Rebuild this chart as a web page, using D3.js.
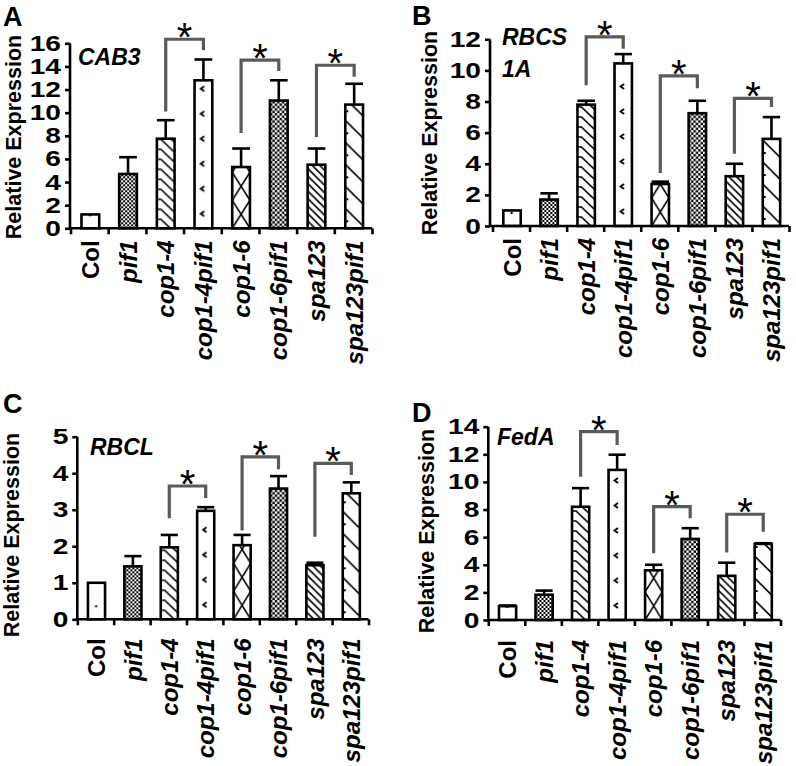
<!DOCTYPE html>
<html>
<head>
<meta charset="utf-8">
<script src="https://cdn.jsdelivr.net/npm/d3@7"></script>
<style>
  html, body { margin: 0; padding: 0; background: #fff; }
  svg { display: block; }
  text { font-family: "Liberation Sans", Arial, Helvetica, sans-serif; }
</style>
</head>
<body>
<svg id="chart" width="796" height="766"></svg>
<script>
// ---------------- DATA ----------------
const categories = ["Col", "pif1", "cop1-4", "cop1-4pif1", "cop1-6", "cop1-6pif1", "spa123", "spa123pif1"];
const italicLabels = [false, true, true, true, true, true, true, true];

// Panel A : CAB3
const meanA = [1.2, 4.7, 7.75, 12.8, 5.3, 11.05, 5.5, 10.7];
const errA  = [0.0, 1.45, 1.6, 1.8, 1.6, 1.75, 1.4, 1.8];
const ticksA = [0, 2, 4, 6, 8, 10, 12, 14, 16];
const bracketsA = [
  ["cop1-4", "cop1-4pif1", 16.35, 10.1, 15.4],
  ["cop1-6", "cop1-6pif1", 14.55, 8.25, 13.6],
  ["spa123", "spa123pif1", 14.1, 7.9, 13.1]
];

// Panel B : RBCS 1A
const meanB = [1.0, 1.7, 7.8, 10.45, 2.7, 7.25, 3.2, 5.6];
const errB  = [0.0, 0.4, 0.25, 0.6, 0.15, 0.8, 0.8, 1.4];
const ticksB = [0, 2, 4, 6, 8, 10, 12];
const bracketsB = [
  ["cop1-4", "cop1-4pif1", 12.15, 9.05, 11.4],
  ["cop1-6", "cop1-6pif1", 9.65, 3.4, 8.85],
  ["spa123", "spa123pif1", 8.2, 4.65, 7.65]
];

// Panel C : RBCL
const meanC = [1.0, 1.45, 1.97, 2.97, 2.03, 3.58, 1.48, 3.45];
const errC  = [0.0, 0.28, 0.34, 0.1, 0.28, 0.34, 0.07, 0.3];
const ticksC = [0, 1, 2, 3, 4, 5];
const bracketsC = [
  ["cop1-4", "cop1-4pif1", 3.65, 2.77, 3.32],
  ["cop1-6", "cop1-6pif1", 4.45, 2.43, 4.11],
  ["spa123", "spa123pif1", 4.27, 2.26, 3.95]
];

// Panel D : FedA
const meanD = [1.0, 1.83, 8.2, 10.87, 3.6, 5.87, 3.2, 5.51];
const errD  = [0.05, 0.3, 1.35, 1.1, 0.4, 0.78, 0.95, 0.05];
const ticksD = [0, 2, 4, 6, 8, 10, 12, 14];
const bracketsD = [
  ["cop1-4", "cop1-4pif1", 13.64, 10.38, 12.68],
  ["cop1-6", "cop1-6pif1", 8.21, 4.83, 7.37],
  ["spa123", "spa123pif1", 7.66, 4.88, 6.4]
];

const panelLetters = ["A", "B", "C", "D"];
const geneLabels = [["CAB3"], ["RBCS", "1A"], ["RBCL"], ["FedA"]];
const yTitle = "Relative Expression";

// ---------------- LAYOUT ----------------
const panels = [
  { id: "A", mean: meanA, err: errA, ticks: ticksA, brackets: bracketsA, gene: geneLabels[0],
    axisX: 70, x0: 70.5, x1: 372, y0: 228.3, yTop: 43.3, letter: [3, 26], geneXY: [78, 65], geneDy: 0,
    yTitleX: 13, yTitleY: 137, labelOff: 12 },
  { id: "B", mean: meanB, err: errB, ticks: ticksB, brackets: bracketsB, gene: geneLabels[1],
    axisX: 490, x0: 492.5, x1: 789, y0: 226, yTop: 39.3, letter: [412, 25], geneXY: [502, 45], geneDy: 32,
    yTitleX: 429, yTitleY: 133, labelOff: 12 },
  { id: "C", mean: meanC, err: errC, ticks: ticksC, brackets: bracketsC, gene: geneLabels[2],
    axisX: 77.3, x0: 77.3, x1: 368.5, y0: 619.3, yTop: 436.7, letter: [3, 413], geneXY: [90, 455], geneDy: 0,
    yTitleX: 11, yTitleY: 535, labelOff: 19 },
  { id: "D", mean: meanD, err: errD, ticks: ticksD, brackets: bracketsD, gene: geneLabels[3],
    axisX: 488.3, x0: 488.3, x1: 780.5, y0: 620, yTop: 426.7, letter: [412, 422], geneXY: [497, 445], geneDy: 0,
    yTitleX: 426, yTitleY: 531, labelOff: 20 }
];

const svg = d3.select("#chart");
const defs = svg.append("defs");
const FONT = '"Liberation Sans", Arial, Helvetica, sans-serif';

function newPattern(id, x, y, w, h) {
  const p = defs.append("pattern").attr("id", id).attr("patternUnits", "userSpaceOnUse")
    .attr("x", x).attr("y", y).attr("width", w).attr("height", h);
  p.append("rect").attr("width", w).attr("height", h).attr("fill", "#fff");
  return p;
}

function makePattern(id, kind, x, y, bw) {
  const sw = 1.6;
  if (kind === 0) { // Col: sparse dots
    const p = newPattern(id, x, y, bw, 26);
    p.append("rect").attr("x", bw * 0.42).attr("y", 12).attr("width", 2).attr("height", 2).attr("fill", "#000");
  } else if (kind === 1 || kind === 5) { // checkerboard
    const c = kind === 1 ? 2 : 2.4;
    const p = newPattern(id, x, y, 2 * c, 2 * c);
    p.append("rect").attr("width", c).attr("height", c).attr("fill", "#000");
    p.append("rect").attr("x", c).attr("y", c).attr("width", c).attr("height", c).attr("fill", "#000");
  } else if (kind === 2) { // stepped diagonal "\" with horizontal foot
    const h = 10;
    const p = newPattern(id, x, y, bw, h);
    let d = "";
    for (let k = -2; k <= 0; k++) {
      const y0 = 1 + k * h;
      d += `M0,${y0} H4 L${bw},${y0 + (bw - 4) * 0.95} `;
    }
    p.append("path").attr("d", d).attr("stroke", "#000").attr("stroke-width", sw).attr("fill", "none");
  } else if (kind === 3) { // sparse "<" marks
    const p = newPattern(id, x, y, bw, 25);
    p.append("path").attr("d", `M${bw * 0.55},8 L${bw * 0.35},10.5 L${bw * 0.55},13`).attr("stroke", "#000").attr("stroke-width", 1.8).attr("fill", "none");
  } else if (kind === 4) { // big X
    const h = 28;
    const p = newPattern(id, x, y, bw, h);
    p.append("path").attr("d", `M0,0 L${bw},${h} M${bw},0 L0,${h}`).attr("stroke", "#000").attr("stroke-width", sw).attr("fill", "none");
  } else if (kind === 6) { // dense diagonal
    const s = 7.5;
    const p = newPattern(id, x, y, s, s);
    p.append("path").attr("d", `M-1,-1 L${s + 1},${s + 1} M${s - 1},-1 L${s + 1},1 M-1,${s - 1} L1,${s + 1}`).attr("stroke", "#000").attr("stroke-width", sw);
  } else { // sparse diagonal "\"
    const h = 22;
    const p = newPattern(id, x, y, bw, h);
    let d = "";
    for (let k = -1; k <= 0; k++) {
      const y0 = 2 + k * h;
      d += `M0,${y0} L${bw},${y0 + bw} `;
    }
    p.append("path").attr("d", d).attr("stroke", "#000").attr("stroke-width", sw).attr("fill", "none");
    p.append("rect").attr("x", 1).attr("y", 14).attr("width", 2).attr("height", 2).attr("fill", "#000");
  }
}

panels.forEach((P, pi) => {
  const g = svg.append("g");
  const yMax = P.ticks[P.ticks.length - 1];
  const y = d3.scaleLinear().domain([0, yMax]).range([P.y0, P.yTop]);
  const xb = d3.scaleBand().domain(categories).range([P.x0, P.x1]).paddingInner(0).paddingOuter(0);
  const bw = xb.bandwidth() * 0.47;
  const bx = c => xb(c) + (xb.bandwidth() - bw) / 2 + 1;
  const cx = c => bx(c) + bw / 2;

  // bars
  categories.forEach((c, i) => {
    const pid = `pat${P.id}${i}`;
    makePattern(pid, i, bx(c), P.y0, bw);
    g.append("rect")
      .attr("x", bx(c)).attr("y", y(P.mean[i]))
      .attr("width", bw).attr("height", P.y0 - y(P.mean[i]))
      .attr("fill", `url(#${pid})`).attr("stroke", "#000").attr("stroke-width", 2.6);
    if (P.err[i] > 0.001) {
      const top = y(P.mean[i] + P.err[i]);
      g.append("line").attr("x1", cx(c)).attr("x2", cx(c)).attr("y1", y(P.mean[i])).attr("y2", top)
        .attr("stroke", "#000").attr("stroke-width", 2.6);
      g.append("line").attr("x1", cx(c) - bw / 2).attr("x2", cx(c) + bw / 2).attr("y1", top).attr("y2", top)
        .attr("stroke", "#000").attr("stroke-width", 2.6);
    }
  });

  // y axis
  const sx = 1.28;
  const yAxis = d3.axisLeft(y).tickValues(P.ticks).tickFormat(d3.format("d"))
    .tickSize(5).tickSizeOuter(0).tickPadding(4);
  const ya = g.append("g").attr("transform", `translate(${P.axisX},0)`).call(yAxis);
  ya.select(".domain").attr("stroke-width", 2.6).attr("d", `M0,${P.y0}V${P.yTop}`);
  ya.selectAll(".tick line").attr("stroke-width", 2.6);
  ya.selectAll(".tick text").attr("font-family", FONT).attr("font-size", 22).attr("font-weight", "bold")
    .attr("fill", "#000").attr("x", -9 / sx).attr("transform", `scale(${sx},1)`);

  // x axis with boundary ticks
  const xi = d3.scaleLinear().domain([0, categories.length]).range([P.x0, P.x1]);
  const xAxis = d3.axisBottom(xi).tickValues(d3.range(categories.length + 1)).tickFormat("").tickSize(6).tickSizeOuter(0);
  const xa = g.append("g").attr("transform", `translate(0,${P.y0})`).call(xAxis);
  xa.select(".domain").attr("stroke-width", 2.6).attr("d", `M${P.axisX},0H${P.x1}`);
  xa.selectAll(".tick line").attr("stroke-width", 2.6);

  // x labels
  categories.forEach((c, i) => {
    const tx = xb(c) + xb.bandwidth() / 2 + 1;
    const ty = P.y0 + P.labelOff;
    g.append("text")
      .attr("transform", `translate(${tx},${ty}) rotate(-90)`)
      .attr("text-anchor", "end").attr("dy", "0.36em")
      .attr("font-size", 24).attr("font-weight", "bold")
      .attr("font-style", italicLabels[i] ? "italic" : "normal")
      .text(c);
  });

  // y title
  g.append("text")
    .attr("transform", `translate(${P.yTitleX},${P.yTitleY}) rotate(-90)`)
    .attr("text-anchor", "middle").attr("dy", "0.36em")
    .attr("font-size", 21.5).attr("font-weight", "bold").text(yTitle);

  // panel letter
  g.append("text").attr("x", P.letter[0]).attr("y", P.letter[1])
    .attr("font-size", 27).attr("font-weight", "bold").text(panelLetters[pi]);

  // gene label
  P.gene.forEach((t, k) => {
    g.append("text").attr("x", P.geneXY[0]).attr("y", P.geneXY[1] + k * P.geneDy)
      .attr("font-size", 23).attr("font-weight", "bold").attr("font-style", "italic").text(t);
  });

  // significance brackets
  P.brackets.forEach(b => {
    const xl = cx(b[0]), xr = cx(b[1]);
    g.append("path")
      .attr("d", `M${xl},${y(b[3])}V${y(b[2])}H${xr}V${y(b[4])}`)
      .attr("fill", "none").attr("stroke", "#5a5a5a").attr("stroke-width", 3.2);
    const fs = 40;
    const sy = y(b[2]) - 12;
    g.append("text").attr("x", (xl + xr) / 2).attr("y", sy + 0.6 * fs)
      .attr("text-anchor", "middle").attr("font-size", fs).text("*");
  });
});
</script>
</body>
</html>
